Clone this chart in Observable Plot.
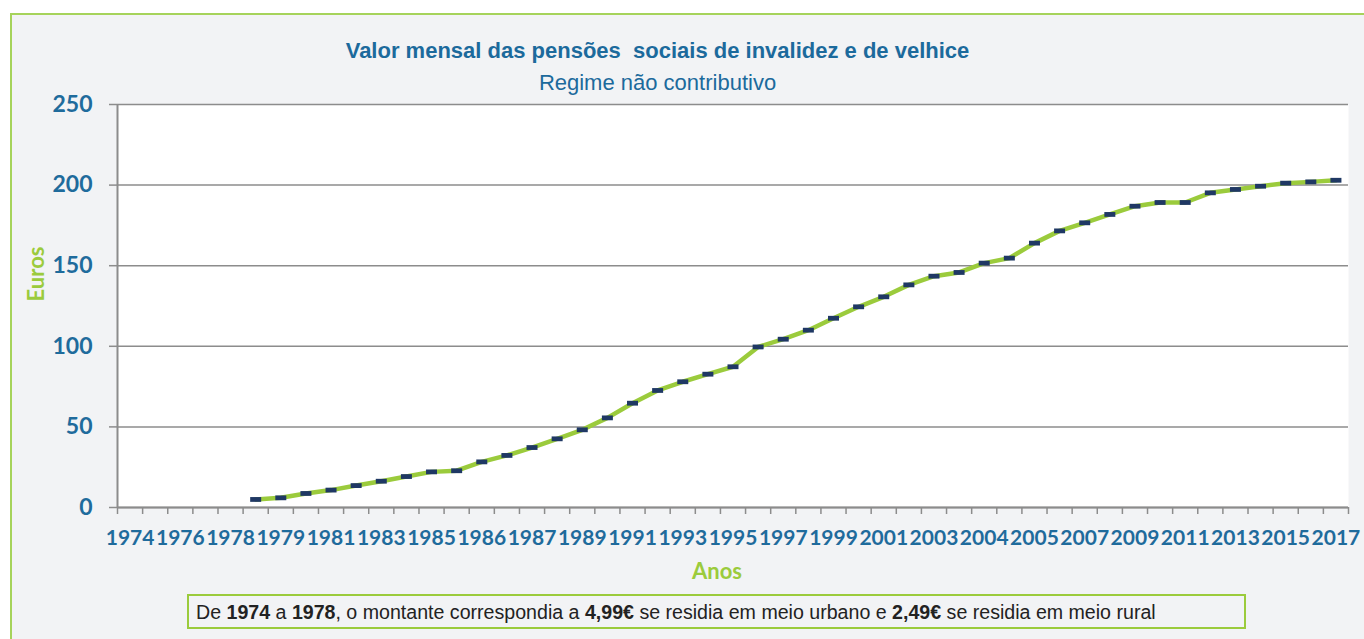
<!DOCTYPE html>
<html>
<head>
<meta charset="utf-8">
<script src="https://cdn.jsdelivr.net/npm/d3@7"></script>
<script src="https://cdn.jsdelivr.net/npm/@observablehq/plot@0.6"></script>
<style>
  html, body { margin: 0; padding: 0; background: #ffffff; width: 1364px; height: 639px; overflow: hidden; position: relative; }
  #panel { position: absolute; left: 10px; top: 13px; width: 1420px; height: 700px; background: #F2F3F5;
           border-left: 2px solid #A6D35B; border-top: 2px solid #A6D35B; }
  .narrow { font-family: "Liberation Sans Narrow", "Arial Narrow", "Liberation Sans", sans-serif; }
  #title { position: absolute; left: 0; width: 1315px; top: 40px; text-align: center; font-size: 22px; line-height: 22px;
           font-weight: bold; color: #1C6A9C; white-space: pre; }
  #subtitle { position: absolute; left: 0; width: 1315px; top: 72px; text-align: center; font-size: 22px; line-height: 22px;
           color: #1C6A9C; }
  #chart { position: absolute; left: 0; top: 90px; }
  #chart svg { overflow: visible; background: transparent; }
  #caption { position: absolute; left: 187px; top: 594px; width: 1048px; height: 31px; border: 2px solid #9BCB3C;
             box-sizing: content-box; font-size: 19.6px; line-height: 33px; color: #222; padding-left: 7px; white-space: nowrap; }
</style>
</head>
<body>
<div id="panel"></div>
<div id="title" class="narrow">Valor mensal das pensões  sociais de invalidez e de velhice</div>
<div id="subtitle" class="narrow">Regime não contributivo</div>
<div id="chart"></div>
<div id="caption" class="narrow">De <b>1974</b> a <b>1978</b>, o montante correspondia a <b>4,99€</b> se residia em meio urbano e <b>2,49€</b> se residia em meio rural</div>
<script>
// Categories (one per update of the pension; only every other one is labelled)
const anos = ["1974","1975","1976","1977","1978","1978","1979","1980","1981","1982",
              "1983","1984","1985","1985","1986","1986","1987","1988","1989","1990",
              "1991","1992","1993","1994","1995","1996","1997","1998","1999","2000",
              "2001","2002","2003","2003","2004","2004","2005","2006","2007","2008",
              "2009","2010","2011","2012","2013","2014","2015","2016","2017"];
// Monthly value (euros); no data for the first five categories
const valores = [null,null,null,null,null,4.99,6.0,8.7,10.8,13.6,
                 16.3,19.2,22.1,22.8,28.3,32.3,37.2,42.6,48.2,55.6,
                 64.7,72.6,78.0,82.7,87.3,99.6,104.4,110.0,117.4,124.5,
                 130.7,138.1,143.5,145.8,151.6,154.7,164.0,171.6,176.6,181.8,
                 186.9,189.2,189.2,195.2,197.3,199.3,201.2,202.0,203.0];
const yTicks = [0, 50, 100, 150, 200, 250];

const azul = "#1F6B9C", verde = "#9BCB3C", marinho = "#1F3864", cinza = "#8C8C8C";
const idx = d3.range(anos.length).filter(i => valores[i] != null);
const xBounds = d3.range(anos.length + 1).map(i => i - 0.5);
const xLabelTicks = d3.range(0, anos.length, 2);
const traco = { draw(ctx) { ctx.rect(-5.5, -2.4, 11, 4.8); } };

const chart = Plot.plot({
  width: 1364,
  height: 510,
  marginLeft: 117,
  marginRight: 16,
  marginTop: 14,
  marginBottom: 93,
  style: { fontFamily: "Lato, sans-serif", background: "transparent", overflow: "visible" },
  x: { type: "linear", domain: [-0.5, anos.length - 0.5], axis: null },
  y: { domain: [0, 250], axis: null },
  marks: [
    Plot.frame({ fill: "white", stroke: "none" }),
    Plot.gridY(yTicks, { stroke: cinza, strokeOpacity: 1, strokeWidth: 1.5 }),
    Plot.ruleX([-0.5], { stroke: cinza, strokeWidth: 2 }),
    Plot.ruleY([0], { stroke: cinza, strokeWidth: 2 }),
    Plot.axisY(yTicks, { tickSize: 8, tickPadding: 17, stroke: cinza, strokeWidth: 1.5, fill: azul,
                         fontSize: 23, fontWeight: "bold", label: null }),
    Plot.axisX(xBounds, { tickSize: 7, tickFormat: () => "", stroke: cinza, strokeWidth: 1.5, label: null }),
    Plot.axisX(xLabelTicks, { tickSize: 0, tickPadding: 23, tickFormat: i => anos[i], fill: azul,
                              fontSize: 21, fontWeight: "bold", label: null }),
    Plot.line(idx, { x: i => i, y: i => valores[i], stroke: verde, strokeWidth: 4.5 }),
    Plot.dot(idx, { x: i => i, y: i => valores[i], symbol: traco, fill: marinho, stroke: "none" }),
    Plot.text(["Anos"], { text: d => d, frameAnchor: "bottom", dx: -16, dy: 71, fill: verde,
                          fontSize: 22, fontWeight: "bold" }),
    Plot.text(["Euros"], { text: d => d, frameAnchor: "left", textAnchor: "middle", dx: -81, dy: -32, rotate: -90,
                           fill: verde, fontSize: 22, fontWeight: "bold" })
  ]
});
document.getElementById("chart").appendChild(chart);
</script>
</body>
</html>
